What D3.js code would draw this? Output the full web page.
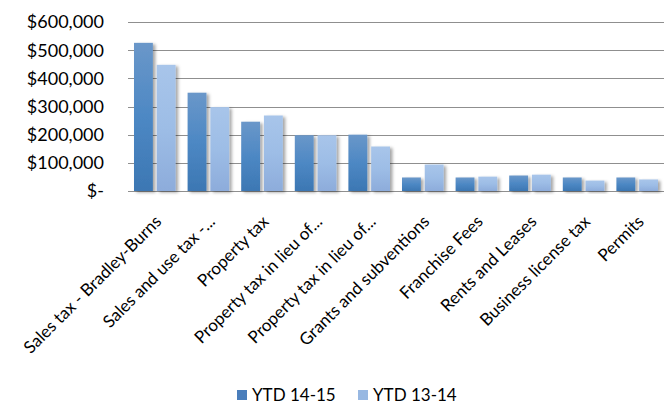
<!DOCTYPE html>
<html>
<head>
<meta charset="utf-8">
<script src="https://cdn.jsdelivr.net/npm/d3@7"></script>
<style>
  body { margin: 0; background: #fff; }
  text { font-family: Lato, "Open Sans", sans-serif; fill: #000; }
</style>
</head>
<body>
<svg width="664" height="405"></svg>
<script>
// Data
var categories = ["Sales tax - Bradley-Burns", "Sales and use tax -...", "Property tax",
  "Property tax in lieu of...", "Property tax in lieu of...", "Grants and subventions",
  "Franchise Fees", "Rents and Leases", "Business license tax", "Permits"];
var series = ["YTD 14-15", "YTD 13-14"];
var ytd1415 = [526000, 349000, 246000, 198000, 200000, 48000, 48000, 55000, 48000, 48000];
var ytd1314 = [448000, 298000, 268000, 198000, 158000, 94000, 51000, 58000, 37000, 41000];
var yTicks = [0, 100000, 200000, 300000, 400000, 500000, 600000];

var svg = d3.select("svg"),
	width = +svg.attr("width"),
	height = +svg.attr("height");

var plotLeft = 128, plotRight = 664, plotTop = 22, plotBottom = 191;

// gradients + shadow
var defs = svg.append("defs");
function grad(id, stops) {
	var g = defs.append("linearGradient").attr("id", id)
		.attr("x1", 0).attr("y1", 0).attr("x2", 0).attr("y2", 1);
	stops.forEach(function(s) {
		g.append("stop").attr("offset", s[0]).attr("stop-color", s[1]);
	});
}
grad("g0", [[0, "#6a97c9"], [0.5, "#4d88c4"], [1, "#3c77b3"]]);
grad("g1", [[0, "#a8c5ea"], [0.5, "#9dbde6"], [1, "#8dacdb"]]);
var colors = ["url(#g0)", "url(#g1)"];
var legendColors = ["#4a7ebb", "#98b8e2"];

var f = defs.append("filter").attr("id", "shadow")
	.attr("x", "-20%").attr("y", "-10%").attr("width", "160%").attr("height", "130%");
f.append("feDropShadow").attr("dx", 2.5).attr("dy", 1.5)
	.attr("stdDeviation", 1.6).attr("flood-color", "#000").attr("flood-opacity", 0.35);

// Scales
var x0 = d3.scaleBand().domain(categories.map(function(d, i) { return i; }))
	.range([plotLeft, plotRight]).padding(0);
var x1 = d3.scaleBand().domain(series)
	.range([6, x0.bandwidth() - 6]).paddingInner(0.17).paddingOuter(0);
var y = d3.scaleLinear().domain([0, 600000]).range([plotBottom, plotTop]);

// Gridlines
svg.append("g")
	.selectAll("line")
	.data(yTicks)
	.enter()
	.append("line")
	.attr("x1", plotLeft).attr("x2", plotRight)
	.attr("y1", function(d) { return Math.round(y(d)) + 0.5; })
	.attr("y2", function(d) { return Math.round(y(d)) + 0.5; })
	.attr("stroke", "#8f8f8f")
	.attr("stroke-width", 1);

// Y labels
svg.append("g")
	.selectAll("text")
	.data(yTicks)
	.enter()
	.append("text")
	.attr("x", 104)
	.attr("y", function(d) { return y(d); })
	.attr("dy", "0.36em")
	.attr("text-anchor", "end")
	.style("font-size", "18px")
	.text(function(d) { return d === 0 ? "$-" : d3.format("$,")(d); });

// Bars
var values = [ytd1415, ytd1314];
var groups = svg.append("g")
	.selectAll("g")
	.data(categories)
	.enter()
	.append("g")
	.attr("transform", function(d, i) { return "translate(" + x0(i) + ",0)"; });

groups.selectAll("rect")
	.data(function(d, i) { return series.map(function(s, k) { return {s: s, k: k, v: values[k][i]}; }); })
	.enter()
	.append("rect")
	.attr("x", function(d) { return x1(d.s); })
	.attr("width", x1.bandwidth())
	.attr("y", function(d) { return y(d.v); })
	.attr("height", function(d) { return y(0) - y(d.v); })
	.attr("fill", function(d) { return colors[d.k]; })
	.attr("filter", "url(#shadow)");

// X labels
svg.append("g")
	.selectAll("text")
	.data(categories)
	.enter()
	.append("text")
	.attr("transform", function(d, i) {
		return "translate(" + (x0(i) + x0.bandwidth() / 2 - 1) + "," + 214 + ") rotate(-45)";
	})
	.attr("text-anchor", "end")
	.attr("dy", "0.72em")
	.style("font-size", "17px")
	.text(function(d) { return d; });

// Legend
var lx = [237, 358];
var legend = svg.append("g")
	.selectAll("g")
	.data(series)
	.enter()
	.append("g")
	.attr("transform", function(d, i) { return "translate(" + lx[i] + ",390)"; });
legend.append("rect")
	.attr("width", 10).attr("height", 10)
	.attr("fill", function(d, i) { return legendColors[i]; });
legend.append("text")
	.attr("x", 15).attr("y", 5).attr("dy", "0.36em")
	.style("font-size", "17px")
	.text(function(d) { return d; });
</script>
</body>
</html>
